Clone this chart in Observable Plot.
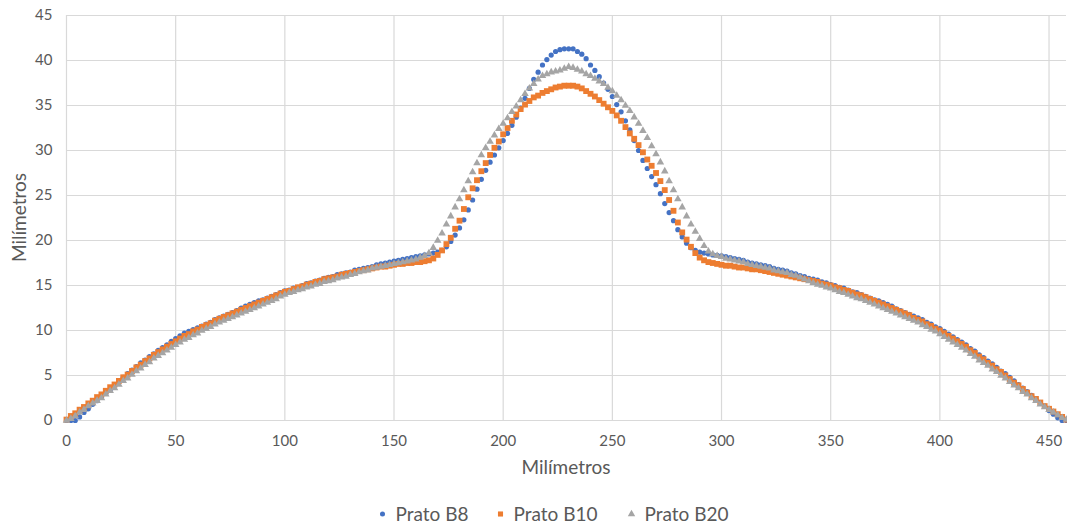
<!DOCTYPE html>
<html>
<head>
<meta charset="utf-8">
<script src="https://cdn.jsdelivr.net/npm/d3@7"></script>
<script src="https://cdn.jsdelivr.net/npm/@observablehq/plot@0.6"></script>
<style>
  html, body { margin: 0; padding: 0; background: #ffffff; }
  #chart { width: 1067px; height: 528px; }
</style>
</head>
<body>
<div id="chart"></div>
<script>
// Sample positions along the profile (mm)
const xMm = [
  0,2,4,6,8,10,12,14,16,18,
  20,22,24,26,28,30,32,34,36,38,
  40,42,44,46,48,50,52,54,56,58,
  60,62,64,66,68,70,72,74,76,78,
  80,82,84,86,88,90,92,94,96,98,
  100,102,104,106,108,110,112,114,116,118,
  120,122,124,126,128,130,132,134,136,138,
  140,142,144,146,148,150,152,154,156,158,
  160,162,164,166,168,170,172,174,176,178,
  180,182,184,186,188,190,192,194,196,198,
  200,202,204,206,208,210,212,214,216,218,
  220,222,224,226,228,230,232,234,236,238,
  240,242,244,246,248,250,252,254,256,258,
  260,262,264,266,268,270,272,274,276,278,
  280,282,284,286,288,290,292,294,296,298,
  300,302,304,306,308,310,312,314,316,318,
  320,322,324,326,328,330,332,334,336,338,
  340,342,344,346,348,350,352,354,356,358,
  360,362,364,366,368,370,372,374,376,378,
  380,382,384,386,388,390,392,394,396,398,
  400,402,404,406,408,410,412,414,416,418,
  420,422,424,426,428,430,432,434,436,438,
  440,442,444,446,448,450,452,454,456,458
];

// Prato B8 (mm)
const pratoB8 = [
  0,0,0,0.4,0.9,1.3,1.8,2.2,2.6,3.0,
  3.4,3.9,4.3,4.8,5.2,5.6,6.0,6.4,6.7,7.1,
  7.4,7.8,8.1,8.4,8.8,9.1,9.4,9.7,9.9,10.1,
  10.3,10.5,10.7,10.9,11.2,11.4,11.6,11.8,12.0,12.2,
  12.5,12.7,12.9,13.1,13.3,13.4,13.6,13.8,14.0,14.2,
  14.4,14.5,14.7,14.8,15.0,15.2,15.3,15.5,15.6,15.8,
  15.9,16.0,16.2,16.3,16.4,16.5,16.7,16.8,16.9,17.0,
  17.1,17.3,17.4,17.5,17.6,17.7,17.8,17.9,18.0,18.1,
  18.2,18.3,18.4,18.5,
  18.6,18.7,18.9,19.3,19.9,20.6,21.4,22.3,23.4,24.5,
  25.7,26.8,27.8,28.7,29.5,30.3,31.1,31.9,32.8,33.7,
  34.7,35.8,36.9,37.9,38.7,39.5,40.1,40.6,41.0,41.2,
  41.3,41.3,41.3,41.0,40.7,40.2,39.5,38.9,38.2,37.5,
  36.8,36.0,35.1,34.3,33.3,32.3,31.1,30.0,28.9,28.0,
  27.1,26.2,25.2,24.1,23.1,22.2,21.2,20.4,19.7,19.2,
  18.9,18.7,18.6,18.5,18.4,18.35,
  18.3,18.2,18.1,18.0,17.9,17.8,17.6,17.5,17.4,17.3,
  17.2,17.1,16.9,16.8,16.7,16.6,16.4,16.3,16.1,16.0,
  15.8,15.7,15.6,15.4,15.3,15.1,15.0,14.8,14.7,14.5,
  14.3,14.2,14.0,13.8,13.6,13.4,13.3,13.1,12.9,12.7,
  12.4,12.2,12.0,11.8,11.6,11.4,11.2,10.9,10.7,10.4,
  10.2,9.9,9.6,9.3,9.0,8.7,8.4,8.0,7.7,7.3,
  7.0,6.6,6.3,5.9,5.5,5.2,4.8,4.4,4.0,3.6,
  3.2,2.8,2.4,2.0,1.6,1.1,0.7,0.3,0,0
];

// Prato B10 (mm)
const pratoB10 = [
  0.1,0.5,0.8,1.2,1.5,1.9,2.2,2.6,2.9,3.3,
  3.7,4.0,4.4,4.8,5.1,5.5,5.9,6.2,6.6,6.9,
  7.3,7.6,7.9,8.2,8.5,8.8,9.1,9.4,9.6,9.9,
  10.1,10.4,10.6,10.8,11.1,11.3,11.5,11.7,11.9,12.1,
  12.3,12.5,12.7,12.9,13.1,13.3,13.5,13.7,13.9,14.1,
  14.3,14.4,14.6,14.8,14.9,15.1,15.2,15.4,15.5,15.7,
  15.8,15.9,16.0,16.2,16.3,16.4,16.5,16.6,16.7,16.8,
  16.9,17.0,17.1,17.1,17.2,17.3,17.4,17.4,17.5,17.5,
  17.6,17.6,17.7,17.8,
  18.0,18.4,18.9,19.6,20.3,21.3,22.2,23.5,24.8,25.8,
  26.7,27.7,28.6,29.5,30.3,31.0,31.8,32.5,33.3,34.0,
  34.6,35.1,35.5,35.9,36.1,36.4,36.6,36.8,37.0,37.1,
  37.2,37.2,37.2,37.1,36.9,36.6,36.3,36.0,35.6,35.2,
  34.8,34.4,33.9,33.3,32.6,31.9,31.3,30.6,29.8,29.0,
  28.3,27.5,26.6,25.6,24.5,23.3,22.0,20.9,20.1,19.3,
  18.6,18.1,17.8,17.6,17.5,17.4,
  17.3,17.2,17.2,17.1,17.0,17.0,16.9,16.8,16.8,16.7,
  16.6,16.5,16.4,16.3,16.2,16.1,16.0,15.9,15.8,15.7,
  15.6,15.5,15.4,15.2,15.1,15.0,14.8,14.7,14.5,14.4,
  14.2,14.0,13.9,13.7,13.5,13.3,13.1,12.9,12.7,12.5,
  12.3,12.1,11.9,11.7,11.4,11.2,11.0,10.7,10.5,10.2,
  10.0,9.7,9.4,9.1,8.8,8.5,8.2,7.8,7.5,7.1,
  6.8,6.4,6.1,5.7,5.4,5.0,4.6,4.2,3.9,3.5,
  3.1,2.7,2.4,2.0,1.6,1.3,1.0,0.7,0.4,0.1
];

// Prato B20 (mm)
const pratoB20 = [
  0,0.2,0.5,0.9,1.2,1.6,1.9,2.2,2.5,2.9,
  3.3,3.6,4.0,4.4,4.7,5.1,5.5,5.8,6.2,6.5,
  6.9,7.2,7.5,7.8,8.1,8.4,8.7,9.0,9.2,9.5,
  9.7,10.0,10.2,10.4,10.7,10.9,11.1,11.3,11.5,11.7,
  11.9,12.1,12.3,12.5,12.7,12.9,13.1,13.3,13.5,13.8,
  14.0,14.2,14.3,14.5,14.6,14.8,14.9,15.1,15.2,15.4,
  15.5,15.6,15.8,15.9,16.0,16.2,16.3,16.5,16.6,16.7,
  16.9,17.0,17.1,17.2,17.3,17.4,17.5,17.6,17.7,17.8,
  17.9,18.1,18.3,18.6,
  19.2,20.0,20.8,21.8,22.7,23.7,24.6,25.6,26.6,27.6,
  28.6,29.5,30.3,31.0,31.7,32.4,33.0,33.6,34.3,34.9,
  35.6,36.3,36.9,37.4,37.9,38.3,38.5,38.7,38.8,38.9,
  39.1,39.3,39.2,39.0,38.8,38.5,38.3,38.0,37.7,37.4,
  37.0,36.6,36.1,35.6,35.0,34.4,33.7,33.0,32.2,31.4,
  30.5,29.6,28.7,27.7,26.6,25.6,24.6,23.7,22.7,21.8,
  21.0,20.2,19.4,18.8,18.5,18.3,
  18.2,18.0,17.9,17.8,17.7,17.6,17.4,17.3,17.2,17.1,
  17.0,16.9,16.7,16.6,16.5,16.4,16.2,16.1,15.9,15.7,
  15.5,15.3,15.1,15.0,14.8,14.7,14.5,14.3,14.2,14.0,
  13.8,13.6,13.5,13.3,13.1,12.9,12.7,12.5,12.3,12.1,
  11.9,11.7,11.5,11.3,11.1,10.9,10.6,10.4,10.1,9.9,
  9.6,9.3,9.0,8.7,8.4,8.1,7.8,7.4,7.1,6.7,
  6.4,6.1,5.7,5.4,5.0,4.7,4.3,3.9,3.6,3.2,
  2.9,2.5,2.2,1.8,1.5,1.2,0.9,0.6,0.3,0.1
];

const seriesNames = ["Prato B8", "Prato B10", "Prato B20"];
const seriesColors = ["#4472C4", "#ED7D31", "#A5A5A5"];
const xTicks = [0, 50, 100, 150, 200, 250, 300, 350, 400, 450];
const yTicks = [0, 5, 10, 15, 20, 25, 30, 35, 40, 45];
const xTitle = "Milímetros";
const yTitle = "Milímetros";

const toRows = (ys) => xMm.map((x, i) => ({x, y: ys[i]})).filter(d => d.y != null);
const rowsB8 = toRows(pratoB8);
const rowsB10 = toRows(pratoB10);
const rowsB20 = toRows(pratoB20);

const W = 1067, H = 528;
const mL = 66, mR = 1, mT = 15, mB = 108;

const svg = Plot.plot({
  width: W,
  height: H,
  marginLeft: mL,
  marginRight: mR,
  marginTop: mT,
  marginBottom: mB,
  style: {fontFamily: "Lato, 'Open Sans', sans-serif", background: "#ffffff", color: "#595959", overflow: "visible"},
  x: {domain: [0, 458]},
  y: {domain: [0, 45]},
  marks: [
    Plot.gridX(xTicks, {stroke: "#d9d9d9", strokeOpacity: 1, strokeWidth: 1.2}),
    Plot.gridY(yTicks, {stroke: "#d9d9d9", strokeOpacity: 1, strokeWidth: 1.2}),
    Plot.axisX(xTicks, {tickSize: 0, tickPadding: 15, fontSize: 15, label: null, tickFormat: d => String(d)}),
    Plot.axisY(yTicks, {tickSize: 0, tickPadding: 14, fontSize: 15, label: null, tickFormat: d => String(d)}),
    Plot.dot(rowsB8, {x: "x", y: "y", symbol: "circle", r: 2.6, fill: seriesColors[0]}),
    Plot.dot(rowsB10, {x: "x", y: "y", symbol: "square", r: 3.3, fill: seriesColors[1]}),
    Plot.dot(rowsB20, {x: "x", y: "y", symbol: "triangle", r: 2.8, fill: seriesColors[2]})
  ]
});

const s = d3.select(svg);
// Axis titles
s.append("text")
  .attr("x", (mL + (W - mR)) / 2)
  .attr("y", 474)
  .attr("text-anchor", "middle")
  .attr("font-size", 19)
  .attr("fill", "#595959")
  .text(xTitle);
s.append("text")
  .attr("transform", `translate(26,${(mT + (H - mB)) / 2}) rotate(-90)`)
  .attr("text-anchor", "middle")
  .attr("font-size", 19)
  .attr("fill", "#595959")
  .text(yTitle);

// Legend
const legendSymbols = [d3.symbolCircle, d3.symbolSquare, d3.symbolTriangle];
const legendSizes = [20, 26, 24];
const legendX = [382.5, 500.5, 631.5];
const lg = s.append("g").attr("font-size", 19).attr("fill", "#595959");
seriesNames.forEach((name, i) => {
  lg.append("path")
    .attr("d", d3.symbol(legendSymbols[i], legendSizes[i])())
    .attr("transform", `translate(${legendX[i]},514)`)
    .attr("fill", seriesColors[i]);
  lg.append("text")
    .attr("x", legendX[i] + 13)
    .attr("y", 520.5)
    .attr("text-anchor", "start")
    .text(name);
});

document.getElementById("chart").appendChild(svg);
</script>
</body>
</html>
